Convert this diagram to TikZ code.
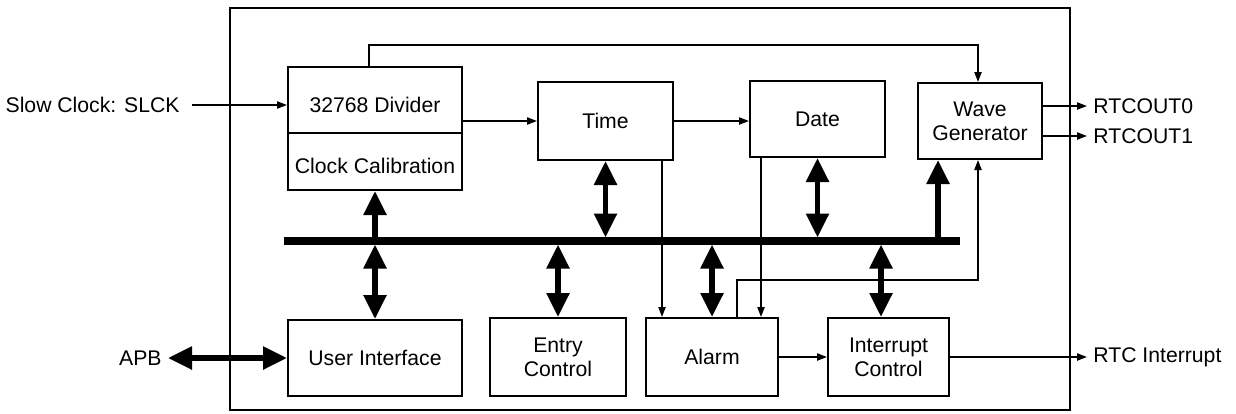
\documentclass[tikz,border=0pt]{standalone}
\usepackage{fontspec}
\setmainfont{Liberation Sans}
\usetikzlibrary{arrows.meta,calc}
\begin{document}
\begin{tikzpicture}[x=0.5pt,y=-0.5pt,
  every node/.style={font=\fontsize{10.6}{12}\selectfont},
  box/.style={draw, line width=1pt, inner sep=0pt, align=center},
  lowtext/.style={text height=12.4pt, text depth=0pt},
  thinarr/.style={line width=0.8pt, -{Triangle[length=5pt,width=3.6pt]}},
  bigarr/.style={line width=2.8pt, {Triangle[length=12pt,width=11pt]}-{Triangle[length=12pt,width=11pt]}},
  bigup/.style={line width=2.8pt, -{Triangle[length=12pt,width=11pt]}},
  lbl/.style={inner sep=0pt}]
\useasboundingbox (0,0) rectangle (1236,413);
% outer frame
\draw[line width=1pt] (230,8) rectangle (1070,410);
% blocks
\node[box, lowtext, minimum width=87pt, minimum height=33pt] (div) at (375,100) {32768 Divider};
\node[box, lowtext, minimum width=87pt, minimum height=28.5pt] (cal) at (375,161.5) {Clock Calibration};
\node[box, minimum width=67.5pt, minimum height=39pt] (time) at (605.5,121) {Time};
\node[box, minimum width=67.5pt, minimum height=38pt] (date) at (817.5,119) {Date};
\node[box, minimum width=62pt, minimum height=38pt] (wave) at (980,121) {Wave\\Generator};
\node[box, minimum width=87pt, minimum height=38pt] (ui) at (375,358) {User Interface};
\node[box, minimum width=68pt, minimum height=39pt] (entry) at (558,357) {Entry\\Control};
\node[box, minimum width=66pt, minimum height=39pt] (alarm) at (712,357) {Alarm};
\node[box, minimum width=60.5pt, minimum height=39pt] (intr) at (888.5,357) {Interrupt\\Control};
% external labels
\node[lbl, anchor=east] (slck) at (180,105) {Slow Clock: SLCK};
\node[lbl, anchor=east] (apb) at (162,358) {APB};
\node[lbl, anchor=west] (rtc0) at (1093,106) {RTCOUT0};
\node[lbl, anchor=west] (rtc1) at (1093,136) {RTCOUT1};
\node[lbl, anchor=west] (rtci) at (1093,357) {RTC Interrupt};
% bus
\coordinate (busL) at (284,241);
\coordinate (busR) at (960,241);
\draw[line width=3.8pt] (busL) -- (busR);
% thin connectors
\draw[thinarr] ($(slck.east)+(12,0)$) -- (slck.east -| div.west);
\draw[thinarr] (div.east |- time.west) -- (time.west);
\draw[thinarr] (time.east |- 0,121) -- (date.west |- 0,121);
\draw[thinarr] (wave.east |- rtc0.west) -- ($(rtc0.west)+(-6,0)$);
\draw[thinarr] (wave.east |- rtc1.west) -- ($(rtc1.west)+(-6,0)$);
\draw[thinarr] (alarm.east) -- (intr.west);
\draw[thinarr] (intr.east) -- ($(rtci.west)+(-6,0)$);
\draw[thinarr] (div.north -| 369,0) |- (978,45) -- (wave.north -| 978,0);
\draw[thinarr] (time.south -| 662,0) -- (alarm.north -| 662,0);
\draw[thinarr] (date.south -| 761,0) -- (alarm.north -| 761,0);
\draw[thinarr] (alarm.north -| 737,0) |- (978,280) -- (wave.south -| 978,0);
% thick bus connectors
\draw[bigup] (cal.south |- 0,238) -- (cal.south);
\draw[bigarr] (time.south) -- (time.south |- 0,237.5);
\draw[bigarr] (date.south) -- (date.south |- 0,237.5);
\draw[bigup] (938,238) -- (wave.south -| 938,0);
\draw[bigarr] (ui.north |- 0,244.5) -- (ui.north);
\draw[bigarr] (entry.north |- 0,244.5) -- (entry.north);
\draw[bigarr] (alarm.north |- 0,244.5) -- (alarm.north);
\draw[bigarr] (881,244.5) -- (intr.north -| 881,0);
\draw[bigarr] ($(apb.east)+(6,0)$) -- (ui.west);
\end{tikzpicture}
\end{document}
